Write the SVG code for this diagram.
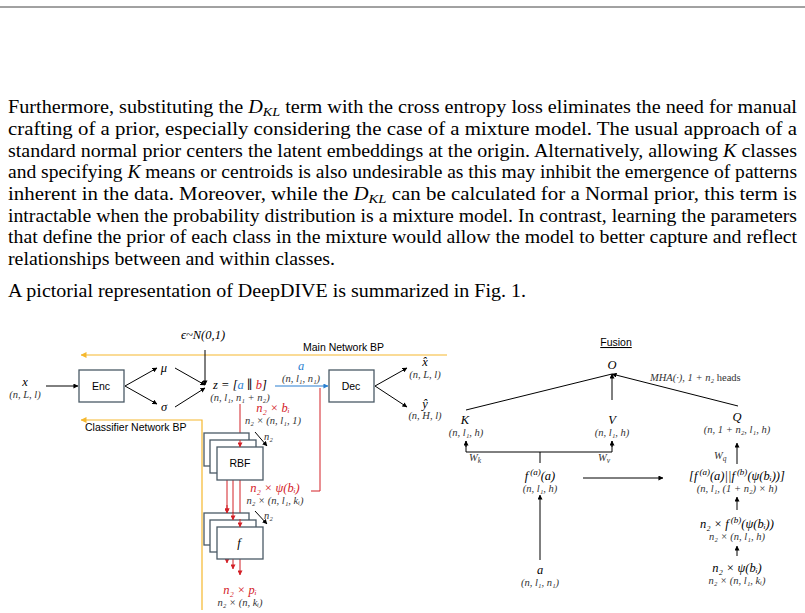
<svg xmlns="http://www.w3.org/2000/svg" width="805" height="613" viewBox="0 0 805 613">
<defs>
<marker id="ah" viewBox="0 0 6 6" refX="5.5" refY="3" markerWidth="5" markerHeight="5" orient="auto"><path d="M0,0L6,3L0,6z" fill="#000"/></marker>
<marker id="ar" viewBox="0 0 6 6" refX="5.5" refY="3" markerWidth="5" markerHeight="5" orient="auto"><path d="M0,0L6,3L0,6z" fill="#d32027"/></marker>
<marker id="ab" viewBox="0 0 6 6" refX="5.5" refY="3" markerWidth="5" markerHeight="5" orient="auto"><path d="M0,0L6,3L0,6z" fill="#2a7fd0"/></marker>
<marker id="ao" viewBox="0 0 6 6" refX="5.5" refY="3" markerWidth="5" markerHeight="5" orient="auto"><path d="M0,0L6,3L0,6z" fill="#f5b82e"/></marker>
</defs>
<style>
.p{font-family:"Liberation Serif","Times New Roman",serif;font-size:18.5px;fill:#000}
.m{font-family:"Liberation Serif","DejaVu Serif",serif;font-style:italic;font-size:12.5px;fill:#000}
.d{font-family:"Liberation Serif","DejaVu Serif",serif;font-style:italic;font-size:10.5px;fill:#333}
.s{font-family:"Liberation Sans",Arial,sans-serif;font-size:10.5px;fill:#000}
.r{fill:#d32027}
.bl{fill:#2a7fd0}
.box{fill:#fff;stroke:#4a5a66;stroke-width:1.3}
.ln{stroke:#000;stroke-width:1;fill:none}
.lr{stroke:#d32027;stroke-width:1;fill:none}
.lo{stroke:#f5b82e;stroke-width:1.2;fill:none}
</style>
<rect width="805" height="613" fill="#fff"/>
<line x1="0" y1="7" x2="805" y2="7" stroke="#444" stroke-width="1"/>
<g id="paragraph">
<text class="p" x="8" y="113" textLength="789" lengthAdjust="spacingAndGlyphs">Furthermore, substituting the <tspan font-style="italic">D</tspan><tspan font-style="italic" font-size="13" dy="3">KL</tspan><tspan dy="-3"> term with the cross entropy loss eliminates the need for manual</tspan></text>
<text class="p" x="8" y="135" textLength="789" lengthAdjust="spacingAndGlyphs">crafting of a prior, especially considering the case of a mixture model.  The usual approach of a</text>
<text class="p" x="8" y="157" textLength="789" lengthAdjust="spacingAndGlyphs">standard normal prior centers the latent embeddings at the origin. Alternatively, allowing <tspan font-style="italic">K</tspan> classes</text>
<text class="p" x="8" y="178" textLength="789" lengthAdjust="spacingAndGlyphs">and specifying <tspan font-style="italic">K</tspan> means or centroids is also undesirable as this may inhibit the emergence of patterns</text>
<text class="p" x="8" y="200" textLength="789" lengthAdjust="spacingAndGlyphs">inherent in the data.  Moreover, while the <tspan font-style="italic">D</tspan><tspan font-style="italic" font-size="13" dy="3">KL</tspan><tspan dy="-3"> can be calculated for a Normal prior, this term is</tspan></text>
<text class="p" x="8" y="222" textLength="789" lengthAdjust="spacingAndGlyphs">intractable when the probability distribution is a mixture model. In contrast, learning the parameters</text>
<text class="p" x="8" y="243" textLength="789" lengthAdjust="spacingAndGlyphs">that define the prior of each class in the mixture would allow the model to better capture and reflect</text>
<text class="p" x="8" y="265" textLength="327" lengthAdjust="spacingAndGlyphs">relationships between and within classes.</text>
<text class="p" x="8" y="297" textLength="518" lengthAdjust="spacingAndGlyphs">A pictorial representation of DeepDIVE is summarized in Fig. 1.</text>
</g>
<g id="connectors">
<line class="lo" x1="447" y1="355" x2="81" y2="355" marker-end="url(#ao)"/>
<polyline class="lo" points="202,610 202,420 81,420" marker-end="url(#ao)"/>
<line class="ln" x1="205" y1="350" x2="205" y2="385" marker-end="url(#ah)"/>
<line class="ln" x1="46" y1="386" x2="78" y2="386" marker-end="url(#ah)"/>
<line class="ln" x1="125" y1="386" x2="157" y2="368" marker-end="url(#ah)"/>
<line class="ln" x1="125" y1="386" x2="157" y2="404" marker-end="url(#ah)"/>
<line class="ln" x1="175" y1="368" x2="205" y2="385" marker-end="url(#ah)"/>
<line class="ln" x1="175" y1="407" x2="205" y2="388" marker-end="url(#ah)"/>
<line x1="275" y1="386" x2="328" y2="386" stroke="#2a7fd0" stroke-width="1" marker-end="url(#ab)"/>
<line class="ln" x1="375" y1="386" x2="407" y2="368" marker-end="url(#ah)"/>
<line class="ln" x1="375" y1="386" x2="407" y2="407" marker-end="url(#ah)"/>
<line class="lr" x1="240" y1="404" x2="240" y2="447" marker-end="url(#ar)"/>
<polyline class="lr" points="320,388 320,491 311,491"/>
<line class="lr" x1="227" y1="480" x2="227" y2="513" marker-end="url(#ar)"/>
<line class="lr" x1="233" y1="480" x2="233" y2="520" marker-end="url(#ar)"/>
<line class="lr" x1="240" y1="480" x2="240" y2="527" marker-end="url(#ar)"/>
<line class="lr" x1="227" y1="559" x2="227" y2="563" marker-end="url(#ar)"/>
<line class="lr" x1="233" y1="559" x2="233" y2="569" marker-end="url(#ar)"/>
<line class="lr" x1="240" y1="559" x2="240" y2="575" marker-end="url(#ar)"/>
<line class="ln" x1="255" y1="432" x2="267" y2="446" marker-end="url(#ah)"/>
<line class="ln" x1="255" y1="511" x2="267" y2="524" marker-end="url(#ah)"/>
<line class="ln" x1="466" y1="410" x2="612" y2="374"/>
<line class="ln" x1="738" y1="406" x2="612" y2="374" marker-end="url(#ah)"/>
<line class="ln" x1="612" y1="400" x2="612" y2="374" marker-end="url(#ah)"/>
<polyline class="ln" points="466,441 466,452 612,452 612,441"/>
<line class="ln" x1="466" y1="447" x2="466" y2="441" marker-end="url(#ah)"/>
<line class="ln" x1="612" y1="447" x2="612" y2="441" marker-end="url(#ah)"/>
<line class="ln" x1="540" y1="452" x2="540" y2="463"/>
<line class="ln" x1="583" y1="478" x2="663" y2="478" marker-end="url(#ah)"/>
<line class="ln" x1="737" y1="464" x2="737" y2="443" marker-end="url(#ah)"/>
<line class="ln" x1="540" y1="560" x2="540" y2="495" marker-end="url(#ah)"/>
<line class="ln" x1="737" y1="510" x2="737" y2="497" marker-end="url(#ah)"/>
<line class="ln" x1="737" y1="556" x2="737" y2="546" marker-end="url(#ah)"/>
</g>
<g id="labels">
<text class="m" x="203" y="339" text-anchor="middle">ϵ~N(0,1)</text>
<text class="s" x="303" y="351">Main Network BP</text>
<text class="s" x="85" y="431">Classifier Network BP</text>
<text class="m" x="25" y="386" text-anchor="middle">x</text>
<text class="d" x="25" y="398" text-anchor="middle">(n, L, l)</text>
<text class="m" x="164" y="372" text-anchor="middle">μ</text>
<text class="m" x="164" y="411" text-anchor="middle">σ</text>
<text class="m" x="240" y="389" text-anchor="middle">z = [<tspan class="bl">a</tspan> ∥ <tspan class="r">b</tspan>]</text>
<text class="d" x="240" y="401" text-anchor="middle">(n, l₁, n₁ + n₂)</text>
<text class="m bl" x="301" y="370" text-anchor="middle">a</text>
<text class="d" x="301" y="382" text-anchor="middle">(n, l₁, n₁)</text>
<text class="m" x="425" y="366" text-anchor="middle">x̂</text>
<text class="d" x="425" y="378" text-anchor="middle">(n, L, l)</text>
<text class="m" x="425" y="408" text-anchor="middle">ŷ</text>
<text class="d" x="425" y="419" text-anchor="middle">(n, H, l)</text>
<text class="m r" x="273" y="412" text-anchor="middle">n₂ × bᵢ</text>
<text class="d" x="273" y="424" text-anchor="middle">n₂ × (n, l₁, 1)</text>
<text class="d" x="264" y="440">n₂</text>
<text class="d" x="264" y="519">n₂</text>
<text class="m r" x="275" y="492" text-anchor="middle">n₂ × ψ(bᵢ)</text>
<text class="d" x="275" y="504" text-anchor="middle">n₂ × (n, l₁, kᵢ)</text>
<text class="m r" x="240" y="594" text-anchor="middle">n₂ × pᵢ</text>
<text class="d" x="240" y="606" text-anchor="middle">n₂ × (n, kᵢ)</text>
<text class="s" x="616" y="346" text-anchor="middle" font-size="11.5" text-decoration="underline">Fusion</text>
<text class="m" x="612" y="369" text-anchor="middle">O</text>
<text class="d" x="650" y="381">MHA(·), 1 + n₂ <tspan font-style="normal">heads</tspan></text>
<text class="m" x="465" y="424" text-anchor="middle">K</text>
<text class="d" x="466" y="436" text-anchor="middle">(n, l₁, h)</text>
<text class="m" x="612" y="424" text-anchor="middle">V</text>
<text class="d" x="612" y="436" text-anchor="middle">(n, l₁, h)</text>
<text class="m" x="737" y="421" text-anchor="middle">Q</text>
<text class="d" x="737" y="433" text-anchor="middle">(n, 1 + n₂, l₁, h)</text>
<text class="d" x="469" y="461">W<tspan font-size="7.5" dy="2">k</tspan></text>
<text class="d" x="598" y="461">W<tspan font-size="7.5" dy="2">v</tspan></text>
<text class="d" x="714" y="459">W<tspan font-size="7.5" dy="2">q</tspan></text>
<text class="m" x="540" y="480" text-anchor="middle">f<tspan font-size="9" dx="2" dy="-5">(a)</tspan><tspan dy="5">(a)</tspan></text>
<text class="d" x="540" y="492" text-anchor="middle">(n, l₁, h)</text>
<text class="m" x="737" y="480" text-anchor="middle">[f<tspan font-size="9" dx="2" dy="-5">(a)</tspan><tspan dy="5">(a)||f</tspan><tspan font-size="9" dx="2" dy="-5">(b)</tspan><tspan dy="5">(ψ(bᵢ))]</tspan></text>
<text class="d" x="737" y="492" text-anchor="middle">(n, l₁, (1 + n₂) × h)</text>
<text class="m" x="737" y="528" text-anchor="middle">n₂ × f<tspan font-size="9" dx="2" dy="-5">(b)</tspan><tspan dy="5">(ψ(bᵢ))</tspan></text>
<text class="d" x="737" y="540" text-anchor="middle">n₂ × (n, l₁, h)</text>
<text class="m" x="737" y="572" text-anchor="middle">n₂ × ψ(bᵢ)</text>
<text class="d" x="737" y="584" text-anchor="middle">n₂ × (n, l₁, kᵢ)</text>
<text class="m" x="540" y="574" text-anchor="middle">a</text>
<text class="d" x="540" y="586" text-anchor="middle">(n, l₁, n₁)</text>
</g>
<g id="enc"><rect class="box" x="79" y="370" width="45" height="32"/><text class="s" x="101" y="390" text-anchor="middle">Enc</text></g>
<g id="dec"><rect class="box" x="329" y="370" width="45" height="32"/><text class="s" x="351" y="390" text-anchor="middle">Dec</text></g>
<g id="rbf">
<rect class="box" x="204" y="433" width="45" height="33"/>
<rect class="box" x="210" y="440" width="46" height="33"/>
<rect class="box" x="217" y="447" width="46" height="33"/>
<text class="s" x="240" y="467" text-anchor="middle">RBF</text>
</g>
<g id="f">
<rect class="box" x="204" y="513" width="45" height="32"/>
<rect class="box" x="210" y="520" width="46" height="32"/>
<rect class="box" x="217" y="527" width="46" height="32"/>
<text class="m" x="239" y="547" text-anchor="middle">f</text>
</g>
<line class="lr" x1="240" y1="440" x2="240" y2="447" marker-end="url(#ar)"/>
<line class="lr" x1="227" y1="505" x2="227" y2="513" marker-end="url(#ar)"/>
<line class="lr" x1="233" y1="512" x2="233" y2="520" marker-end="url(#ar)"/>
<line class="lr" x1="240" y1="519" x2="240" y2="527" marker-end="url(#ar)"/>
</svg>
